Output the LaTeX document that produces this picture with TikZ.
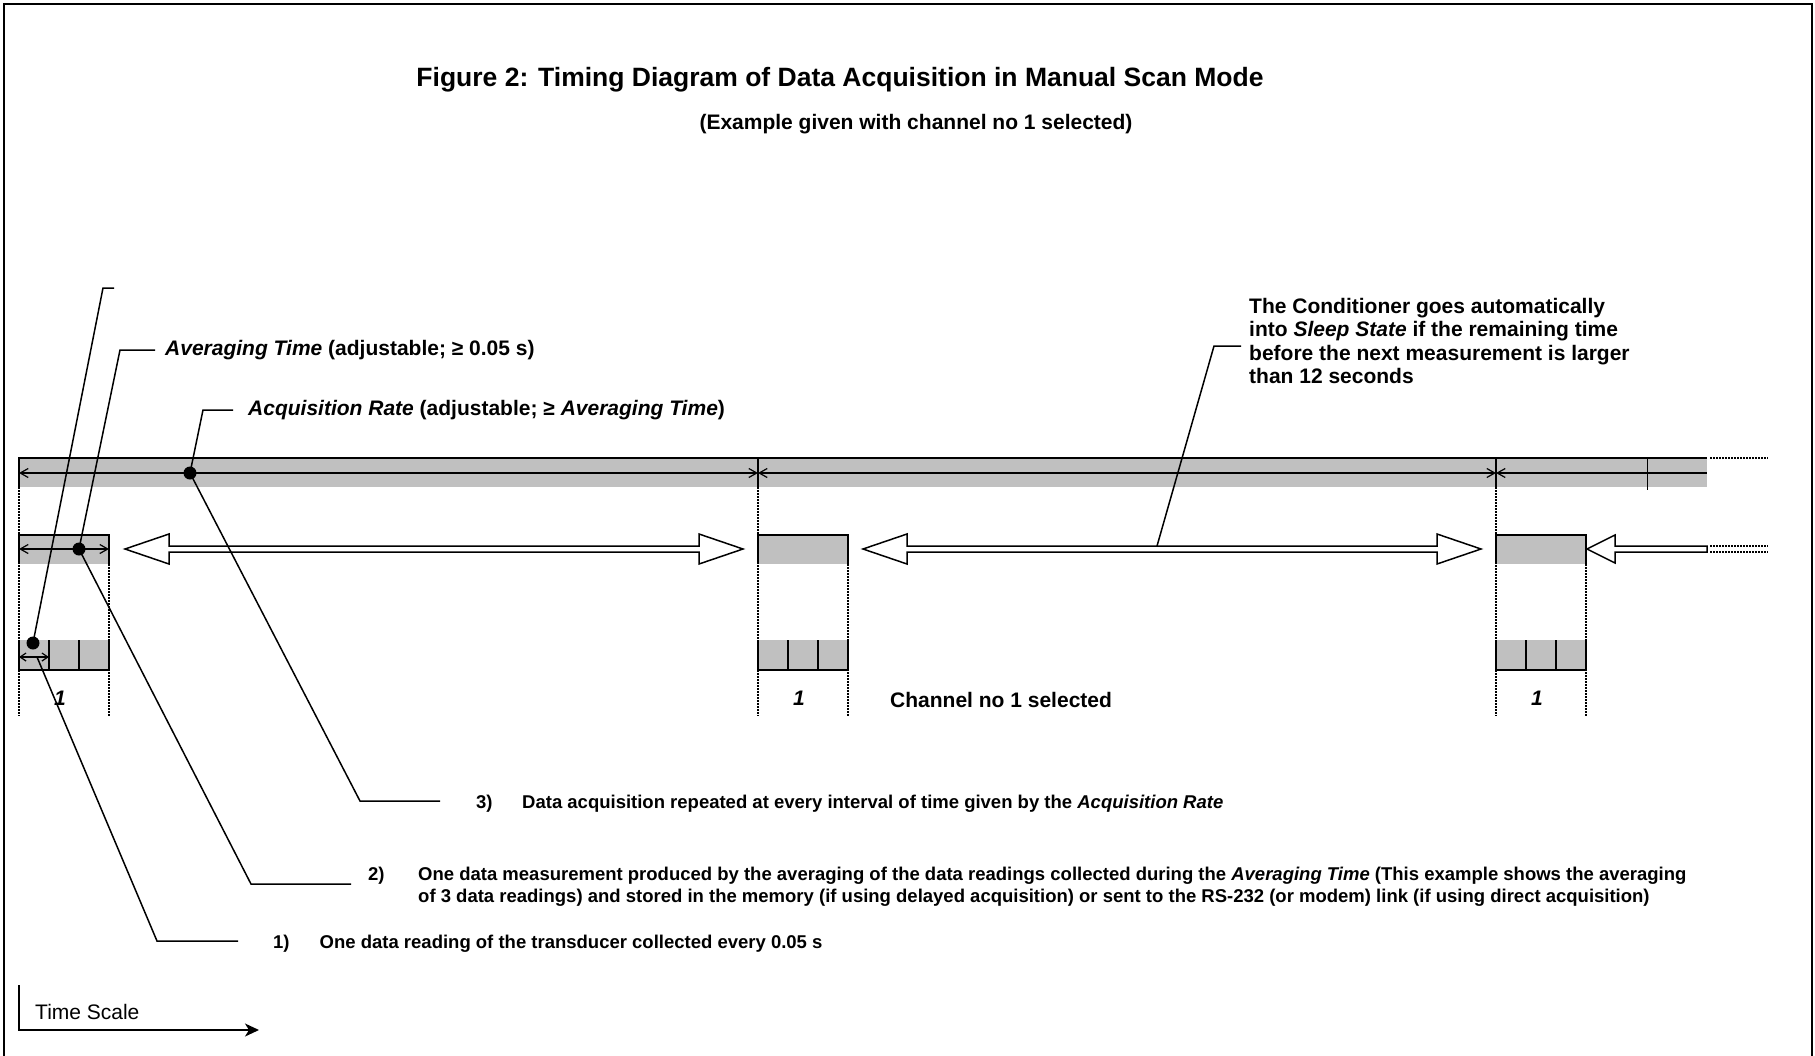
\documentclass[tikz,border=0pt]{standalone}
\usepackage{fontspec}
\setmainfont{Liberation Sans}
\usetikzlibrary{positioning,arrows.meta}

\definecolor{barfill}{RGB}{192,192,192}

\begin{document}
\begin{tikzpicture}[
        x=1pt,
        y=-1pt,
        every node/.style={inner sep=0pt},
        barb/.tip={Straight Barb[length=8pt,width=9pt]},
        lbl/.style={
            font=\fontsize{21}{23.5}\selectfont\bfseries,
            anchor=west
        },
        note/.style={
            font=\fontsize{18.5}{22}\selectfont\bfseries,
            anchor=base west
        },
        dot/.style={
            circle,
            fill=black,
            minimum size=13pt
        },
        leader/.style={
            line width=1.5pt
        },
        boxline/.style={
            line width=2pt
        },
        guide/.style={
            line width=1.4pt,
            dash pattern=on 1.5pt off 1.5pt
        },
        spanline/.style={
            line width=1.2pt,
            barb-barb
        },
        hollow/.style={
            line width=1.5pt,
            fill=white,
            line join=miter
        }
    ]

    \useasboundingbox (0,0) rectangle (1815,1055);

    % frame
    \draw[line width=2.5pt] (4,1060) -- (4,4) -- (1812,4) -- (1812,1060);

    % titles
    \node[font=\fontsize{26.5}{30}\selectfont\bfseries] (title) at (840,80)
    {Figure 2: Timing Diagram of Data Acquisition in Manual Scan Mode};
    \node[font=\fontsize{21}{24}\selectfont\bfseries] (subtitle) at (916,124)
    {(Example given with channel no 1 selected)};

    % dotted guides
    \foreach \x in {19,758,1496} {
        \draw[guide] (\x,487) -- (\x,716);
        \draw[guide] (\x+90,564) -- (\x+90,716);
    }

    % acquisition rate bar
    \fill[barfill] (19,458) rectangle (1707,487);
    \draw[boxline] (19,487) -- (19,458) -- (1707,458);
    \draw[guide] (1710,458) -- (1768,458);
    \draw[boxline] (758,458) -- (758,487);
    \draw[boxline] (1496,458) -- (1496,487);
    \draw[line width=0.8pt] (1647,458) -- (1647,490);
    \draw[spanline] (19,473) -- (758,473);
    \draw[spanline] (758,473) -- (1496,473);
    \draw[line width=1.2pt, barb-] (1496,473) -- (1707,473);

    % measurements and readings
    \foreach \x in {19,758,1496} {
        \fill[barfill] (\x,535) rectangle (\x+90,564);
        \draw[boxline] (\x,564) -- (\x,535) -- (\x+90,535) -- (\x+90,564);
        \fill[barfill] (\x,640) rectangle (\x+90,670);
        \draw[boxline] (\x,640) -- (\x,670) -- (\x+90,670) -- (\x+90,640);
        \draw[boxline] (\x+30,640) -- (\x+30,670);
        \draw[boxline] (\x+60,640) -- (\x+60,670);
        \node[font=\fontsize{21}{24}\selectfont\bfseries\itshape] at (\x+41,698) {1};
    }
    \draw[spanline] (19,549) -- (109,549);
    \draw[line width=1.2pt, {Straight Barb[length=6pt,width=8pt]}-{Straight Barb[length=6pt,width=8pt]}] (19,657) -- (49,657);

    \node[font=\fontsize{21}{24}\selectfont\bfseries, anchor=west] (channel) at (890,700)
    {Channel no 1 selected};

    % sleep arrows
    \draw[hollow] (125,549) -- (169,534) -- (169,546) -- (699,546) -- (699,534)
        -- (743,549) -- (699,564) -- (699,552) -- (169,552) -- (169,564) -- cycle;
    \draw[hollow] (863,549) -- (907,534) -- (907,546) -- (1437,546) -- (1437,534)
        -- (1481,549) -- (1437,564) -- (1437,552) -- (907,552) -- (907,564) -- cycle;
    \draw[hollow] (1587,549) -- (1615,535) -- (1615,546) -- (1707,546)
        -- (1707,552) -- (1615,552) -- (1615,563) -- cycle;
    \draw[guide] (1710,546) -- (1768,546);
    \draw[guide] (1710,552) -- (1768,552);

    % dots
    \node[dot] (rateDot) at (190,473) {};
    \node[dot] (avgDot) at (79,549) {};
    \node[dot] (readDot) at (33,643) {};
    \coordinate (readSpan) at (37,657);
    \coordinate (sleepFoot) at (1157,546);

    % labels
    \node[lbl] (avgLbl) at (165,350)
    {\textit{Averaging Time} (adjustable; ≥ 0.05 s)};
    \node[lbl] (rateLbl) at (248,410)
    {\textit{Acquisition Rate} (adjustable; ≥ \textit{Averaging Time})};
    \node[lbl, anchor=north west, align=left] (sleepLbl) at (1249,298)
    {
        The Conditioner goes automatically\\
        into \textit{Sleep State} if the remaining time\\
        before the next measurement is larger\\
        than 12 seconds
    };

    % notes
    \node[note] (note3) at (476,808)
    {\begin{tabular}[t]{@{}p{46pt}@{}l@{}}
        3) & Data acquisition repeated at every interval of time given by the \textit{Acquisition Rate}
    \end{tabular}};
    \node[note] (note2) at (368,880)
    {\begin{tabular}[t]{@{}p{50pt}@{}l@{}}
        2) & One data measurement produced by the averaging of the data readings collected during the \textit{Averaging Time} (This example shows the averaging\\
           & of 3 data readings) and stored in the memory (if using delayed acquisition) or sent to the RS-232 (or modem) link (if using direct acquisition)
    \end{tabular}};
    \node[note] (note1) at (273,948)
    {\begin{tabular}[t]{@{}p{46.5pt}@{}l@{}}
        1) & One data reading of the transducer collected every 0.05 s
    \end{tabular}};

    % leaders
    \coordinate (avgBend) at (120,350);
    \coordinate (rateBend) at (203,410);
    \coordinate (readBend) at (103,288);
    \coordinate (readTop) at (114,288);
    \coordinate (sleepBend) at (1214,346);
    \coordinate (rateKnee) at (360,801);
    \coordinate (avgKnee) at (251,884);
    \coordinate (readKnee) at (157,941);

    \draw[leader, shorten >=10pt] (avgDot.center) -- (avgBend) -- (avgLbl.west);
    \draw[leader, shorten >=15pt] (rateDot.center) -- (rateBend) -- (rateLbl.west);
    \draw[leader] (readDot.center) -- (readBend) -- (readTop);
    \draw[leader, shorten >=8pt] (sleepFoot) -- (sleepBend) -- (sleepBend -| sleepLbl.west);
    \draw[leader, shorten >=36pt] (rateDot.center) -- (rateKnee) -- (rateKnee -| note3.west);
    \draw[leader, shorten >=17pt] (avgDot.center) -- (avgKnee) -- (avgKnee -| note2.west);
    \draw[leader, shorten >=35pt] (readSpan) -- (readKnee) -- (readKnee -| note1.west);

    % time scale
    \coordinate (axisTop) at (19,985);
    \coordinate (axisEnd) at (259,1030);
    \draw[line width=1.5pt, -{Stealth[length=14pt,width=13pt,inset=4pt]}] (axisTop) |- (axisEnd);
    \node[font=\fontsize{21}{24}\selectfont, anchor=west] (scaleLbl) at (35,1012) {Time Scale};

\end{tikzpicture}
\end{document}
